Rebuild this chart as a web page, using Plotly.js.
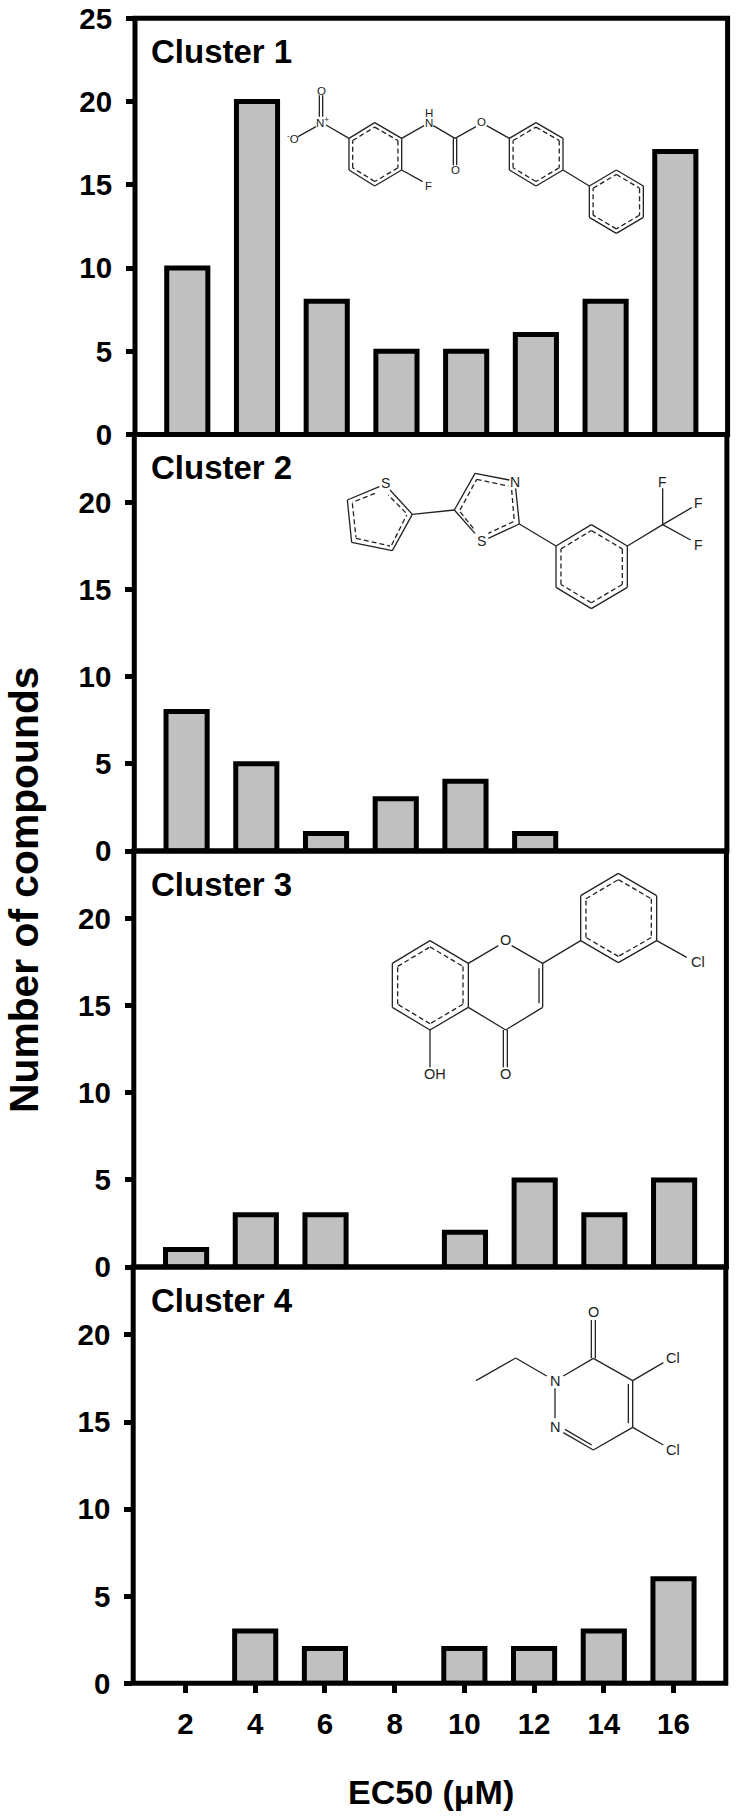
<!DOCTYPE html>
<html><head><meta charset="utf-8">
<script src="https://cdn.plot.ly/plotly-3.0.1.min.js"></script>
<style>html,body{margin:0;padding:0;background:#fff}</style></head>
<body><div id="chart" style="width:738px;height:1819px"></div>
<script>
const ec50 = [2,4,6,8,10,12,14,16];
const cluster1 = [10,20,8,5,5,6,8,17];
const cluster2 = [8,5,1,3,4,1,0,0];
const cluster3 = [1,3,3,0,2,5,3,5];
const cluster4 = [0,3,2,0,2,2,3,6];
const clusterNames = ['Cluster 1','Cluster 2','Cluster 3','Cluster 4'];
const xTitle = 'EC50 (μM)';
const yTitle = 'Number of compounds';

const W=738,H=1819,F='"Liberation Sans", Arial, sans-serif';
const PW=592.6;
// top, bottom, y max, left edge
const panels=[[18.3,434.5,25,135],[434.5,851,23.9,134.3],[851,1267,23.9,133.8],[1267,1683.3,23.9,133.2]];
const series=[cluster1,cluster2,cluster3,cluster4];
const px=x=>x/W, py=y=>1-y/H;

const data=[],shapes=[],annotations=[];
const layout={width:W,height:H,margin:{l:0,r:0,t:0,b:0},paper_bgcolor:'#fff',plot_bgcolor:'rgba(0,0,0,0)',showlegend:false};
panels.forEach((p,i)=>{
  const n=i+1,s=i?String(n):'';
  data.push({type:'bar',x:ec50,y:series[i],xaxis:'x'+s,yaxis:'y'+s,width:1.18,
    marker:{color:'#c0c0c0',line:{color:'#000',width:series[i].map(v=>v>0?5:0)}},hoverinfo:'skip'});
  layout['xaxis'+s]={domain:[px(p[3]),px(p[3]+PW)],range:[0.5,17.5],anchor:'y'+s,showgrid:false,zeroline:false,showline:false,
    tickmode:'array',tickvals:ec50,ticktext:ec50.map(String),
    ticks:i===3?'outside':'',ticklen:8.5,tickwidth:5,tickcolor:'#000',showticklabels:i===3,ticklabelstandoff:6,
    tickfont:{family:F,size:29.5,color:'#000',weight:'bold'}};
  layout['yaxis'+s]={domain:[py(p[1]),py(p[0])],range:[0,p[2]],anchor:'x'+s,showgrid:false,zeroline:false,showline:false,
    tickmode:'array',tickvals:i===0?[0,5,10,15,20,25]:[0,5,10,15,20],
    ticks:'outside',ticklen:8,tickwidth:5,tickcolor:'#000',ticklabelstandoff:8,
    tickfont:{family:F,size:29.5,color:'#000',weight:'bold'}};
  shapes.push({type:'rect',xref:'x'+s+' domain',yref:'y'+s+' domain',x0:0,x1:1,y0:0,y1:1,line:{color:'#000',width:5},fillcolor:'rgba(0,0,0,0)',layer:'above'});
  annotations.push({xref:'paper',yref:'paper',x:px(149),y:py(p[0]+33),text:'<b>'+clusterNames[i]+'</b>',showarrow:false,xanchor:'left',yanchor:'middle',font:{family:F,size:33,color:'#000'}});
});
annotations.push({xref:'paper',yref:'paper',x:px(24),y:py(890),text:'<b>'+yTitle+'</b>',textangle:-90,showarrow:false,xanchor:'center',yanchor:'middle',font:{family:F,size:40.8,color:'#000'}});
annotations.push({xref:'paper',yref:'paper',x:px(431),y:py(1792),text:'<b>'+xTitle+'</b>',showarrow:false,xanchor:'center',yanchor:'middle',font:{family:F,size:34,color:'#000'}});

// Structure drawings: coordinates in 3x crop space, with offset
function mol(ox,oy,solid,dashed,labels,size){
  const X=x=>px(ox+x/3),Y=y=>py(oy+y/3);
  const ln=(b,d)=>shapes.push({type:'line',xref:'paper',yref:'paper',x0:X(b[0]),y0:Y(b[1]),x1:X(b[2]),y1:Y(b[3]),layer:'above',
    line:{color:'#222',width:1.3,dash:d?'5px,3px':'solid'}});
  solid.forEach(b=>ln(b,false)); dashed.forEach(b=>ln(b,true));
  labels.forEach(l=>annotations.push({xref:'paper',yref:'paper',x:X(l[1]),y:Y(l[2]),text:l[0],showarrow:false,xanchor:'center',yanchor:'middle',
    font:{family:F,size:size,color:'#222'}}));
}
function ring(v,f){
  const cx=v.reduce((a,p)=>a+p[0],0)/v.length,cy=v.reduce((a,p)=>a+p[1],0)/v.length;
  const s=[],d=[];
  v.forEach((p,i)=>{const q=v[(i+1)%v.length];
    s.push([p[0],p[1],q[0],q[1]]);
    const g=(a,c)=>c+(a-c)*f;
    d.push([g(p[0],cx),g(p[1],cy),g(q[0],cx),g(q[1],cy)]);});
  return [s,d];
}
function hexes(list,f){let s=[],d=[];list.forEach(v=>{const r=ring(v,f||0.86);s=s.concat(r[0]);d=d.concat(r[1]);});return [s,d];}

let r=hexes([
 [[224,188],[305,235],[305,330],[224,378],[147,330],[147,235]],
 [[708,188],[789,235],[789,330],[708,378],[628,330],[628,235]],
 [[949,330],[1030,378],[1030,472],[949,520],[868,472],[868,378]]]);
mol(300,60,r[0].concat([[78,195,147,235],[58,106,58,170],[68,106,68,170],[48,200,-6,230],[305,235,372,197],[400,197,465,235],
 [465,235,528,200],[460,235,460,316],[470,235,470,316],[560,197,628,235],[789,330,868,378],[305,330,368,365]]),r[1],
 [['O',63,92],['N<sup>+</sup>',68,185],['<sup>-</sup>O',-22,234],['H',387,160],['N',387,188],['O',545,187],['O',465,330],['F',385,377]],11.5);

r=hexes([[[814,224],[922,288],[922,412],[814,476],[708,412],[708,288]]]);
mol(320,450,r[0].concat([[178,110,82,150],[82,150,95,277],[95,277,217,302],[217,302,277,193],[277,193,210,120],[277,193,403,180],
 [403,180,465,70],[465,70,568,90],[587,115,598,222],[598,222,505,265],[465,250,403,180],[598,222,708,288],
 [922,288,1028,224],[1028,224,1028,115],[1028,224,1115,173],[1028,224,1112,270]]),
 r[1].concat([[165,130,97,157],[97,160,108,262],[108,265,210,288],[215,285,260,195],[257,188,205,135],
 [420,180,470,88],[470,88,565,108],[575,120,583,215],[580,215,505,250],[460,235,420,185]]),
 [['S',197,98],['N',586,97],['S',484,272],['F',1028,95],['F',1135,158],['F',1135,285]],14);

r=hexes([[[180,242],[295,310],[295,442],[180,510],[67,442],[67,310]],[[745,40],[860,107],[860,242],[745,308],[632,242],[632,107]]]);
mol(370,860,r[0].concat([[295,310,385,257],[425,257,518,310],[518,310,518,442],[507,325,507,430],[518,442,407,510],[407,510,295,442],
 [400,510,400,622],[412,510,412,622],[180,510,180,622],[518,310,632,242],[860,242,950,292]]),r[1],
 [['O',405,240],['O',405,642],['OH',195,642],['Cl',985,307]],14.5);

mol(450,1290,[[78,272,197,204],[197,204,290,258],[340,258,430,205],[424,205,424,90],[436,205,436,90],[430,205,548,272],[548,272,548,412],[535,282,535,400],
 [548,272,640,218],[548,412,640,465],[548,412,430,480],[430,480,340,428],[425,465,345,418],[315,295,315,385]],[],
 [['O',430,65],['N',315,272],['N',315,410],['Cl',668,203],['Cl',668,480]],14.5);

layout.shapes=shapes;layout.annotations=annotations;
Plotly.newPlot('chart',data,layout,{staticPlot:true,displayModeBar:false});
</script></body></html>
